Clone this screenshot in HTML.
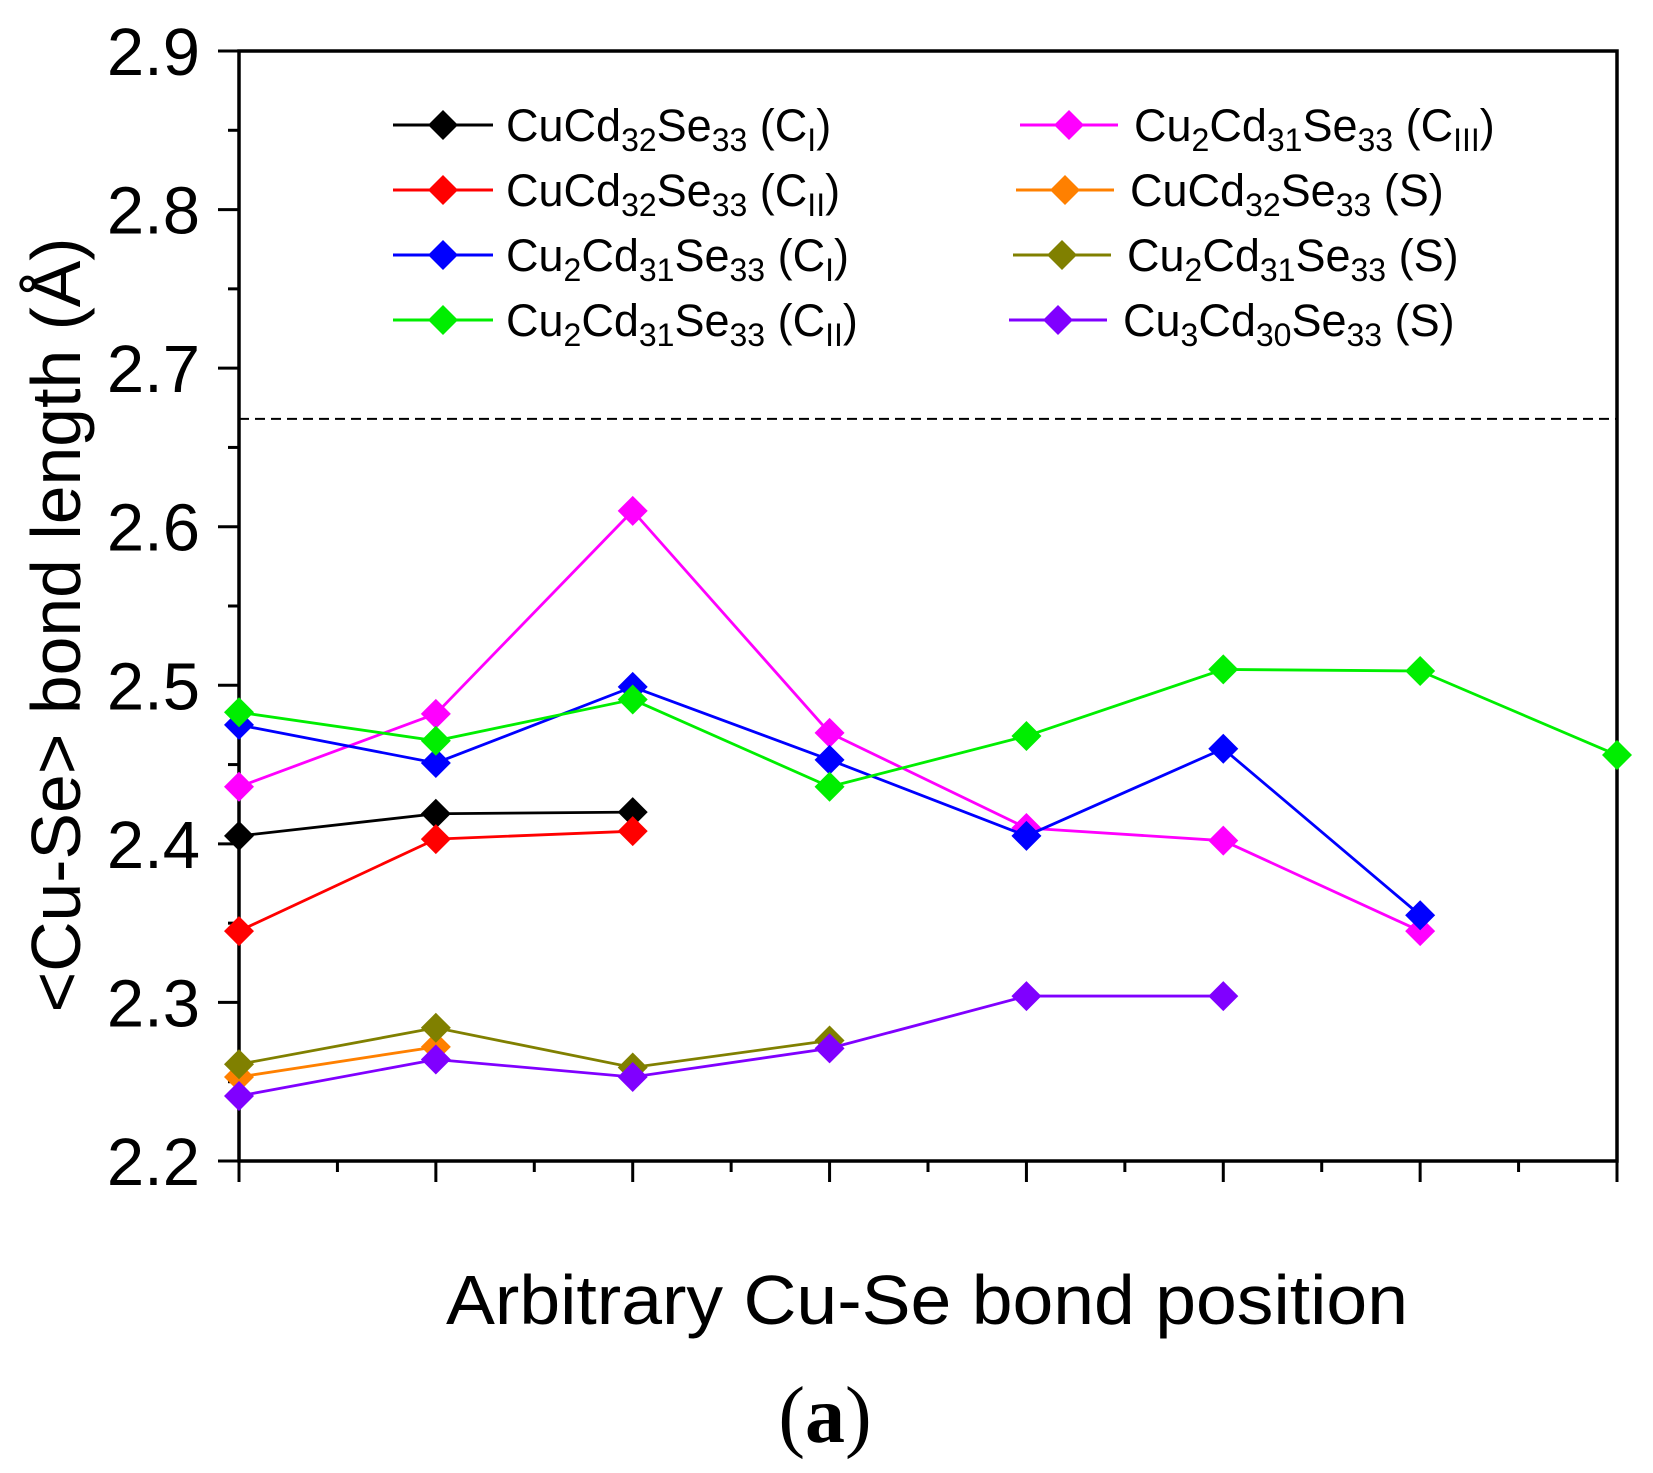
<!DOCTYPE html>
<html><head><meta charset="utf-8"><style>
html,body{margin:0;padding:0;background:#fff;}
svg{display:block;font-family:"Liberation Sans",Arial,sans-serif;}
</style></head><body>
<svg id="chart" width="1653" height="1473" viewBox="0 0 1653 1473" xmlns="http://www.w3.org/2000/svg">
<g id="axes"></g>
<g id="series"></g>
<g id="legend"></g>
<text transform="translate(80,625) rotate(-90)" text-anchor="middle" font-size="70" textLength="775" lengthAdjust="spacingAndGlyphs">&lt;Cu-Se&gt; bond length (Å)</text>
<text x="927" y="1324" text-anchor="middle" font-size="70" textLength="962" lengthAdjust="spacingAndGlyphs">Arbitrary Cu-Se bond position</text>
<text x="825" y="1442" text-anchor="middle" font-size="80" font-family="Liberation Serif, serif">(<tspan font-weight="bold">a</tspan>)</text>
</svg>
<script>
const yTicks = [2.2, 2.3, 2.4, 2.5, 2.6, 2.7, 2.8, 2.9];
const yTickLabels = ["2.2","2.3","2.4","2.5","2.6","2.7","2.8","2.9"];
const xTicks = [0,1,2,3,4,5,6,7];
const refLine = 2.668;
const sBlack = [2.405, 2.419, 2.420];
const sRed = [2.345, 2.403, 2.408];
const sBlue = [2.475, 2.451, 2.499, 2.453, 2.405, 2.460, 2.355];
const sGreen = [2.483, 2.465, 2.491, 2.436, 2.468, 2.510, 2.509, 2.456];
const sMagenta = [2.436, 2.482, 2.610, 2.470, 2.410, 2.402, 2.345];
const sOrange = [2.253, 2.272];
const sOlive = [2.261, 2.284, 2.259, 2.276];
const sPurple = [2.241, 2.264, 2.253, 2.271, 2.304, 2.304];

const NS = "http://www.w3.org/2000/svg";
const L = 239, R = 1617, T = 51, B = 1161;
const xMin = 0, xMax = 7, yMin = 2.2, yMax = 2.9;
function xs(v){ return L + (v - xMin) / (xMax - xMin) * (R - L); }
function ys(v){ return B - (v - yMin) / (yMax - yMin) * (B - T); }
function mk(tag, attrs, parent){ const e = document.createElementNS(NS, tag); for (const k in attrs) e.setAttribute(k, attrs[k]); parent.appendChild(e); return e; }

const axes = document.getElementById('axes');
const frame = mk('rect', {x:L, y:T, width:R-L, height:B-T, fill:'none', stroke:'#000', 'stroke-width':3.5}, axes);


yTicks.forEach((v, i) => {
  const t = mk('line', {x1:L-21, x2:L, y1:ys(v), y2:ys(v), stroke:'#000', 'stroke-width':3}, axes);
  
  
  if (i < yTicks.length - 1) {
    const m = mk('line', {x1:L-11, x2:L, y1:ys(v+0.05), y2:ys(v+0.05), stroke:'#000', 'stroke-width':3}, axes);
    
    
  }
  const lb = mk('text', {x:200, y:ys(v)+24, 'text-anchor':'end', 'font-size':67}, axes);
  lb.textContent = yTickLabels[i];
  
  
});
xTicks.forEach((v, i) => {
  const t = mk('line', {x1:xs(v), x2:xs(v), y1:B, y2:B+21, stroke:'#000', 'stroke-width':3}, axes);
  
  
  if (i < xTicks.length - 1) {
    const m = mk('line', {x1:xs(v+0.5), x2:xs(v+0.5), y1:B, y2:B+11, stroke:'#000', 'stroke-width':3}, axes);
    
    
  }
});
const ref = mk('line', {x1:L, x2:R, y1:ys(refLine), y2:ys(refLine), stroke:'#000', 'stroke-width':2, 'stroke-dasharray':'10,6'}, axes);



const seriesDefs = [
  {vals:sOrange, color:'#ff8000', name:'series-cucd32se33-s'},
  {vals:sOlive, color:'#808000', name:'series-cu2cd31se33-s'},
  {vals:sPurple, color:'#8000ff', name:'series-cu3cd30se33-s'},
  {vals:sBlack, color:'#000000', name:'series-cucd32se33-ci'},
  {vals:sRed, color:'#ff0000', name:'series-cucd32se33-cii'},
  {vals:sMagenta, color:'#ff00ff', name:'series-cu2cd31se33-ciii'},
  {vals:sBlue, color:'#0000ff', name:'series-cu2cd31se33-ci'},
  {vals:sGreen, color:'#00ee00', name:'series-cu2cd31se33-cii'}
];
const sg = document.getElementById('series');
function diamond(cx, cy, r){ return `${cx},${cy-r} ${cx+r},${cy} ${cx},${cy+r} ${cx-r},${cy}`; }
seriesDefs.forEach(s => {
  const g = mk('g', {}, sg);
  
  
  const pts = s.vals.map((v, i) => `${xs(i)},${ys(v)}`).join(' ');
  const pl = mk('polyline', {points:pts, fill:'none', stroke:s.color, 'stroke-width':2.8}, g);
  
  
  s.vals.forEach((v, i) => {
    const p = mk('polygon', {points:diamond(xs(i), ys(v), 15), fill:s.color}, g);
    
    
  });
});

const legendItems = [
  {color:'#000000', x1:393, x2:493, tx:506, y:125, parts:[['CuCd'],['32','s'],['Se'],['33','s'],[' (C'],['I','s'],[')']]},
  {color:'#ff0000', x1:393, x2:493, tx:506, y:190, parts:[['CuCd'],['32','s'],['Se'],['33','s'],[' (C'],['II','s'],[')']]},
  {color:'#0000ff', x1:393, x2:493, tx:506, y:255, parts:[['Cu'],['2','s'],['Cd'],['31','s'],['Se'],['33','s'],[' (C'],['I','s'],[')']]},
  {color:'#00ee00', x1:393, x2:493, tx:506, y:320, parts:[['Cu'],['2','s'],['Cd'],['31','s'],['Se'],['33','s'],[' (C'],['II','s'],[')']]},
  {color:'#ff00ff', x1:1020, x2:1118, tx:1134, y:125, parts:[['Cu'],['2','s'],['Cd'],['31','s'],['Se'],['33','s'],[' (C'],['III','s'],[')']]},
  {color:'#ff8000', x1:1016, x2:1114, tx:1130, y:190, parts:[['CuCd'],['32','s'],['Se'],['33','s'],[' (S)']]},
  {color:'#808000', x1:1013, x2:1111, tx:1127, y:255, parts:[['Cu'],['2','s'],['Cd'],['31','s'],['Se'],['33','s'],[' (S)']]},
  {color:'#8000ff', x1:1009, x2:1107, tx:1123, y:320, parts:[['Cu'],['3','s'],['Cd'],['30','s'],['Se'],['33','s'],[' (S)']]}
];
const lg = document.getElementById('legend');
legendItems.forEach(it => {
  const g = mk('g', {}, lg);
  
  
  mk('line', {x1:it.x1, x2:it.x2, y1:it.y, y2:it.y, stroke:it.color, 'stroke-width':3}, g);
  mk('polygon', {points:diamond((it.x1+it.x2)/2, it.y, 15), fill:it.color}, g);
  const t = mk('text', {x:it.tx, y:it.y+16, 'font-size':45}, g);
  
  
  let sub = false;
  it.parts.forEach(p => {
    const ts = document.createElementNS(NS, 'tspan');
    const isSub = p[1] === 's';
    if (isSub && !sub) ts.setAttribute('dy', '10');
    if (!isSub && sub) ts.setAttribute('dy', '-10');
    if (isSub) ts.setAttribute('font-size', '32');
    ts.textContent = p[0];
    t.appendChild(ts);
    sub = isSub;
  });
});
</script>
</body></html>
